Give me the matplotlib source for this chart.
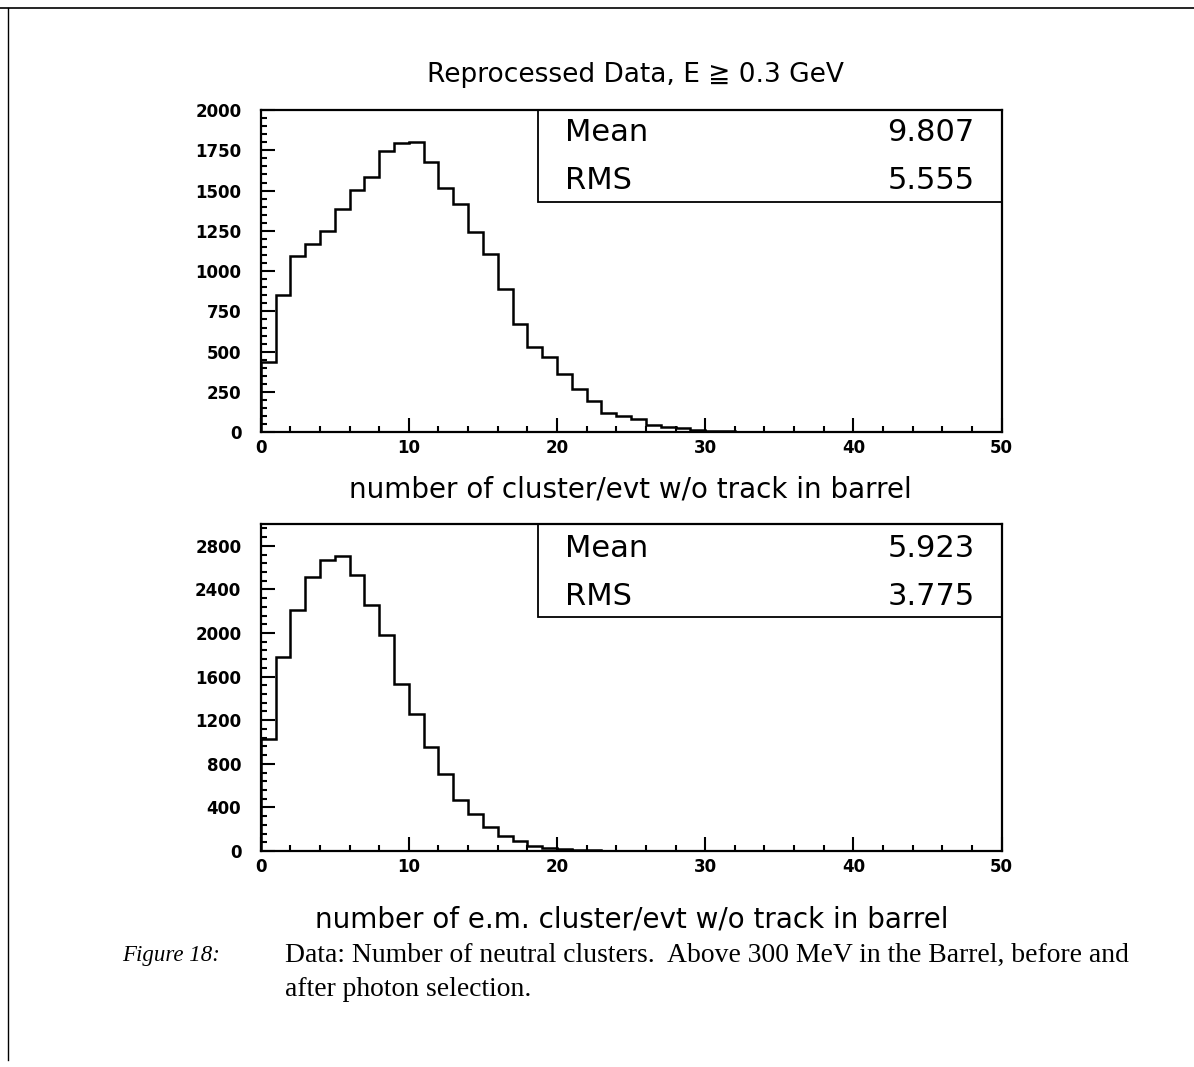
import numpy as np
import matplotlib
matplotlib.use("Agg")
import matplotlib.pyplot as plt
from matplotlib.patches import Rectangle
from matplotlib.lines import Line2D
from matplotlib.ticker import MultipleLocator

# ---- data ----
top_counts = [438, 852, 1094, 1168, 1249, 1388, 1503, 1586, 1747, 1793, 1799,
              1677, 1514, 1415, 1241, 1106, 891, 672, 531, 465, 362, 268, 195,
              118, 102, 83, 46, 35, 25, 12, 8, 5, 3, 2, 1]
bot_counts = [1025, 1781, 2208, 2513, 2666, 2702, 2535, 2254, 1979, 1528, 1260,
              955, 705, 467, 339, 217, 140, 95, 46, 27, 15, 8, 5, 3, 2, 1]
top_stats = [("Mean", "9.807"), ("RMS", "5.555")]
bot_stats = [("Mean", "5.923"), ("RMS", "3.775")]
title = "Reprocessed Data, E \u2267 0.3 GeV"
top_xlabel = "number of cluster/evt w/o track in barrel"
bot_xlabel = "number of e.m. cluster/evt w/o track in barrel"
caption_label = "Figure 18:"
caption_lines = ["Data: Number of neutral clusters.  Above 300 MeV in the Barrel, before and",
                 "after photon selection."]

W, H = 1194, 1067
fig = plt.figure(figsize=(W / 100, H / 100), dpi=100)
fig.patch.set_facecolor("white")

def px_rect(left, top, right, bottom):
    return [left / W, 1 - bottom / H, (right - left) / W, (bottom - top) / H]

ax1 = fig.add_axes(px_rect(260.7, 110, 1001.5, 432.3))
ax2 = fig.add_axes(px_rect(260.7, 524, 1001.5, 851))

tickfont = dict(family=["DejaVu Sans"], weight="bold", size=12)

def style(ax, counts, ymax, ymaj, ymin, stats, box_bottom, ytxt):
    edges = np.arange(len(counts) + 1)
    ax.stairs(counts, edges, color="black", linewidth=1.8, baseline=0)
    ax.set_xlim(0, 50)
    ax.set_ylim(0, ymax)
    for s in ax.spines.values():
        s.set_linewidth(1.6)
    ax.xaxis.set_major_locator(MultipleLocator(10))
    ax.xaxis.set_minor_locator(MultipleLocator(2))
    ax.yaxis.set_major_locator(MultipleLocator(ymaj))
    ax.yaxis.set_minor_locator(MultipleLocator(ymin))
    ax.tick_params(which="both", direction="in", top=False, right=False, width=1.5)
    ax.tick_params(which="major", length=10)
    ax.tick_params(which="minor", length=4.5)
    ax.tick_params(axis="y", which="major", pad=14)
    ax.tick_params(axis="x", which="major", pad=5)
    for lab in ax.get_xticklabels() + ax.get_yticklabels():
        lab.set_fontproperties(matplotlib.font_manager.FontProperties(**tickfont))
    ax.add_patch(Rectangle((0.374, box_bottom), 0.626, 1 - box_bottom,
                           transform=ax.transAxes, fill=False,
                           edgecolor="black", linewidth=1.3, zorder=5))
    for (name, val), yy in zip(stats, ytxt):
        ax.text(0.411, yy, name, transform=ax.transAxes, fontsize=22,
                va="center", ha="left", family=["DejaVu Sans"])
        ax.text(0.964, yy, val, transform=ax.transAxes, fontsize=22,
                va="center", ha="right", family=["DejaVu Sans"])

style(ax1, top_counts, 2000, 250, 50, top_stats, 0.7136, [0.929, 0.78])
style(ax2, bot_counts, 3000, 400, 80, bot_stats, 0.7165, [0.924, 0.777])

fam = ["DejaVu Sans", "Noto Sans CJK SC"]
fig.text(635 / W, 1 - 75 / H, title, ha="center", va="center", fontsize=19, family=fam)
fig.text(630 / W, 1 - 490 / H, top_xlabel, ha="center", va="center", fontsize=20, family=fam)
fig.text(632 / W, 1 - 920 / H, bot_xlabel, ha="center", va="center", fontsize=20, family=fam)

fig.text(122 / W, 1 - 955 / H, caption_label, ha="left", va="center", fontsize=16.5,
         family=["Liberation Serif"], style="italic")
fig.text(285 / W, 1 - 955 / H, caption_lines[0], ha="left", va="center", fontsize=19.9,
         family=["Liberation Serif"])
fig.text(285 / W, 1 - 990 / H, caption_lines[1], ha="left", va="center", fontsize=19.9,
         family=["Liberation Serif"])

# page border (top and left)
fig.add_artist(Line2D([0, 1], [1 - 8 / H, 1 - 8 / H], transform=fig.transFigure,
                      color="black", linewidth=1.2))
fig.add_artist(Line2D([8 / W, 8 / W], [1 - 8 / H, 1 - 1060 / H], transform=fig.transFigure,
                      color="black", linewidth=1.0))

fig.savefig("out.png", dpi=100, facecolor="white")
